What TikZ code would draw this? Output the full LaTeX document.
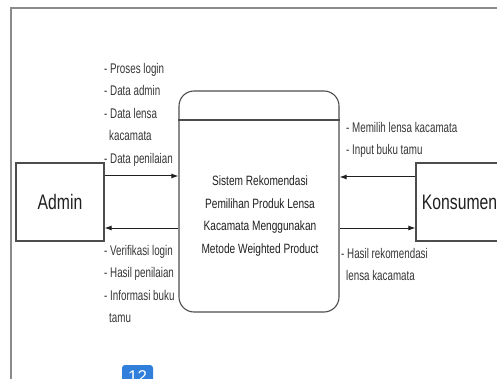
\documentclass[tikz,border=0pt]{standalone}
\usepackage{fontspec}
\setmainfont{Liberation Sans}[FakeStretch=0.75]
\newfontfamily\narrowfont{Liberation Sans}[FakeStretch=0.7]
\newfontfamily\badgefont{Liberation Sans}
\usetikzlibrary{arrows.meta}
\definecolor{frame}{HTML}{8A8A8A}
\definecolor{ink}{HTML}{202020}
\definecolor{badge}{HTML}{2F7FDB}
\tikzset{
  ent/.style={draw=ink!80, line width=1.1pt, minimum width=88pt, minimum height=78pt, font=\fontsize{21}{24}\selectfont, text=ink},
  arr/.style={draw=ink, line width=1pt, -{Latex[length=7pt,width=5pt]}},
  lbl/.style={inner sep=0pt, align=left, text=ink!90, font=\narrowfont\fontsize{14}{22.5}\selectfont},
}
\begin{document}
\begin{tikzpicture}[x=1pt,y=-1pt]
\clip (0,0) rectangle (497,379);
\fill[white] (0,0) rectangle (497,379);
% outer frame
\draw[frame, line width=1.6pt] (11,385) -- (11,8) -- (505,8);
% entities
\node[ent] (admin) at (60,202) {Admin};
\node[ent, minimum width=90pt] (kons) at (461,202) {\hspace*{-3pt}Konsumen};
% process
\node[draw=ink!80, line width=1.1pt, rounded corners=15pt, minimum width=160pt, minimum height=221pt] (proc) at (259,201.5) {};
\draw[ink!80, line width=1.1pt] (proc.west |- 0,120) coordinate (pl) -- (proc.east |- 0,120) coordinate (pr);
\node[align=center, text=ink, font=\fontsize{13.5}{22.5}\selectfont] (ptext) at (260,216) {Sistem Rekomendasi\\Pemilihan Produk Lensa\\Kacamata Menggunakan\\Metode Weighted Product};
% arrow end points
\coordinate (a1) at ([yshift=26pt]admin.east);
\coordinate (a2) at ([yshift=-26pt]admin.east);
\coordinate (k1) at ([yshift=25pt]kons.west);
\coordinate (k2) at ([yshift=-26pt]kons.west);
% arrows
\draw[arr] (a1) -- (proc.west |- a1);
\draw[arr] (proc.west |- a2) -- (a2);
\draw[arr] (k1) -- (proc.east |- k1);
\draw[arr] (proc.east |- k2) -- (k2);
% labels
\node[lbl, anchor=north west] (l1) at (104,63) {- Proses login\\- Data admin\\- Data lensa\\\hspace*{5pt}kacamata\\- Data penilaian};
\node[lbl, anchor=north west] (l2) at (104,245) {- Verifikasi login\\- Hasil penilaian\\- Informasi buku\\\hspace*{5pt}tamu};
\node[lbl, anchor=north west] (l3) at (346,122) {- Memilih lensa kacamata\\- Input buku tamu};
\node[lbl, anchor=north west] (l4) at (341,248) {- Hasil rekomendasi\\\hspace*{5pt}lensa kacamata};
% badge
\node[fill=badge, rounded corners=3pt, minimum width=31pt, minimum height=24pt, text=white, font=\badgefont\fontsize{17}{17}\selectfont, inner sep=0pt] (badge) at (137.5,377) {12};
\end{tikzpicture}
\end{document}
